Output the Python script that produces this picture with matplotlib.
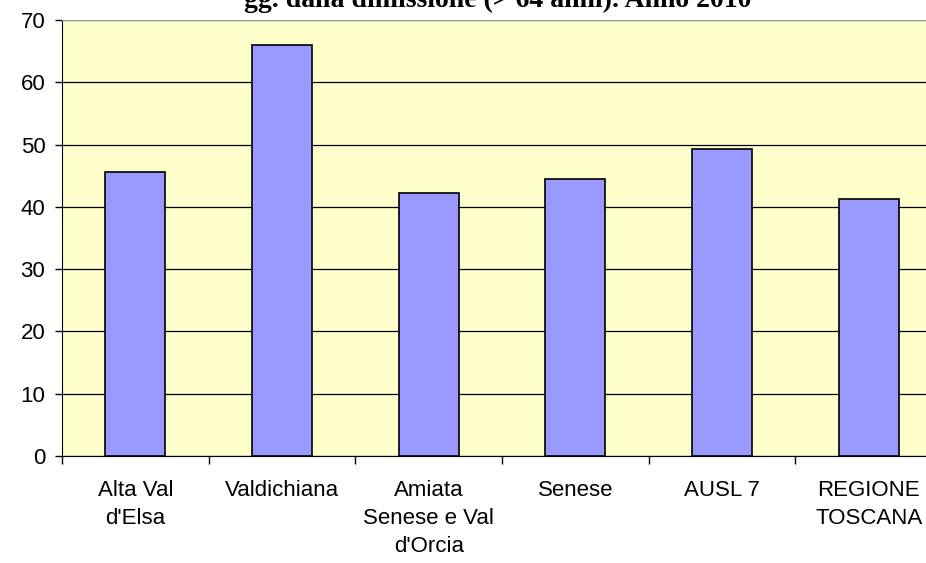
import matplotlib
matplotlib.use("Agg")
import matplotlib.pyplot as plt
import numpy as np

categories = ["Alta Val\nd'Elsa", "Valdichiana", "Amiata\nSenese e Val\nd'Orcia",
              "Senese", "AUSL 7", "REGIONE\nTOSCANA"]
values = [45.6, 66.0, 42.2, 44.5, 49.3, 41.3]
title = "gg. dalla dimissione (> 64 anni). Anno 2010"

plt.rcParams["font.family"] = ["Liberation Sans", "DejaVu Sans"]

fig = plt.figure(figsize=(9.26, 5.63), dpi=100)
# plot area runs past the right edge of the figure
ax = fig.add_axes([62 / 926, 107 / 563, 880 / 926, 436 / 563])
ax.set_facecolor("#FFFFCC")

x = np.arange(len(categories))
ax.bar(x, values, width=0.41, color="#9999FF", edgecolor="black", linewidth=1.2, zorder=3)

ax.set_xlim(-0.5, len(categories) - 0.5)
ax.set_ylim(0, 70)
ax.set_yticks(np.arange(0, 71, 10))
ax.yaxis.grid(True, color="black", linewidth=0.9, zorder=1)
ax.set_axisbelow(True)

# category boundaries carry the tick marks, labels sit centered under the bars
ax.set_xticks(np.arange(-0.5, len(categories) + 0.5, 1))
ax.set_xticklabels([])
ax.set_xticks(x, minor=True)
ax.set_xticklabels(categories, minor=True, fontsize=16, linespacing=1.45)
ax.tick_params(axis="x", which="minor", length=0, pad=17)
ax.tick_params(axis="x", which="major", length=6, width=1, direction="out")
ax.tick_params(axis="y", length=5, width=1, direction="out", labelsize=16, pad=7)

ax.spines["right"].set_visible(False)
ax.spines["top"].set_color("#999999")
ax.spines["left"].set_color("black")
ax.spines["bottom"].set_color("black")

fig.text(0.537, 1 - 7 / 563, title, ha="center", va="baseline", fontsize=20,
         fontweight="bold", family=["Liberation Serif", "DejaVu Serif"])

fig.savefig("out.png", dpi=100)
